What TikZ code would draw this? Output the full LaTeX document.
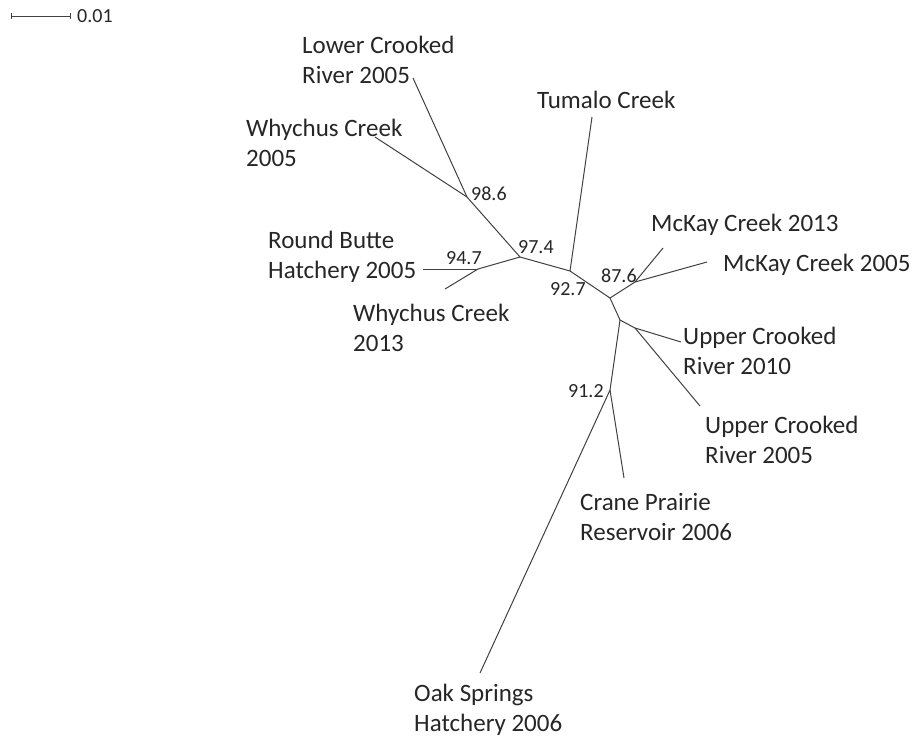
\documentclass[tikz,border=0pt]{standalone}
\usepackage{fontspec}
\setmainfont{Carlito}
\begin{document}
\begin{tikzpicture}[x=1pt,y=-1pt,
  branch/.style={line width=1pt, draw=black!75},
  taxon/.style={anchor=north west, inner sep=0pt, align=left, font=\fontsize{25}{30}\selectfont, text=black!85},
  boot/.style={anchor=north west, inner sep=0pt, font=\fontsize{20}{24}\selectfont, text=black!85}]
\useasboundingbox (0,0) rectangle (917,740);
% internal nodes
\coordinate (n986) at (467,197);
\coordinate (n974) at (520,257);
\coordinate (n947) at (478,269);
\coordinate (n927) at (570,271);
\coordinate (nA) at (610,298);
\coordinate (n876) at (635,282);
\coordinate (nB) at (620,320);
\coordinate (nUC) at (635,328);
\coordinate (n912) at (610,390);
% leaf ends
\coordinate (lcr) at (413,78);
\coordinate (wc05) at (375,137);
\coordinate (rb) at (423,269);
\coordinate (wc13) at (445,289);
\coordinate (tum) at (592,117);
\coordinate (mk13) at (663,248);
\coordinate (mk05) at (707,262);
\coordinate (uc10) at (681,342);
\coordinate (uc05) at (700,406);
\coordinate (cp) at (624,478);
\coordinate (os) at (480,673);
% branches
\draw[branch] (lcr) -- (n986);
\draw[branch] (wc05) -- (n986);
\draw[branch] (n986) -- (n974);
\draw[branch] (rb) -- (n947);
\draw[branch] (wc13) -- (n947);
\draw[branch] (n947) -- (n974);
\draw[branch] (n974) -- (n927);
\draw[branch] (tum) -- (n927);
\draw[branch] (n927) -- (nA);
\draw[branch] (nA) -- (n876);
\draw[branch] (n876) -- (mk13);
\draw[branch] (n876) -- (mk05);
\draw[branch] (nA) -- (nB);
\draw[branch] (nB) -- (nUC);
\draw[branch] (nUC) -- (uc10);
\draw[branch] (nUC) -- (uc05);
\draw[branch] (nB) -- (n912);
\draw[branch] (n912) -- (cp);
\draw[branch] (n912) -- (os);
% taxa labels
\node[taxon] (tLCR) at (302,32) {\strut Lower Crooked\\\strut River 2005};
\node[taxon] (tWC05) at (246,115) {\strut Whychus Creek\\\strut 2005};
\node[taxon] (tTUM) at (537,87) {\strut Tumalo Creek};
\node[taxon] (tMK13) at (651,210) {\strut McKay Creek 2013};
\node[taxon] (tMK05) at (723,250) {\strut McKay Creek 2005};
\node[taxon] (tRB) at (268,227) {\strut Round Butte\\\strut Hatchery 2005};
\node[taxon] (tWC13) at (353,300) {\strut Whychus Creek\\\strut 2013};
\node[taxon] (tUC10) at (683,323) {\strut Upper Crooked\\\strut River 2010};
\node[taxon] (tUC05) at (705,412) {\strut Upper Crooked\\\strut River 2005};
\node[taxon] (tCP) at (580,489) {\strut Crane Prairie\\\strut Reservoir 2006};
\node[taxon] (tOS) at (414,680) {\strut Oak Springs\\\strut Hatchery 2006};
% bootstrap values
\node[boot] (b986) at (471,183) {\strut 98.6};
\node[boot] (b974) at (518,236) {\strut 97.4};
\node[boot] (b947) at (446,247) {\strut 94.7};
\node[boot] (b927) at (550,278) {\strut 92.7};
\node[boot] (b876) at (601,265) {\strut 87.6};
\node[boot] (b912) at (568,380) {\strut 91.2};
% scale bar
\coordinate (sbL) at (11,16);
\coordinate (sbR) at (70,16);
\draw[branch] (sbL) -- (sbR);
\draw[branch] ([yshift=-3pt]sbL) -- ([yshift=3pt]sbL);
\draw[branch] ([yshift=-3pt]sbR) -- ([yshift=3pt]sbR);
\node[boot] (scale) at (77,5) {\strut 0.01};
\end{tikzpicture}
\end{document}
